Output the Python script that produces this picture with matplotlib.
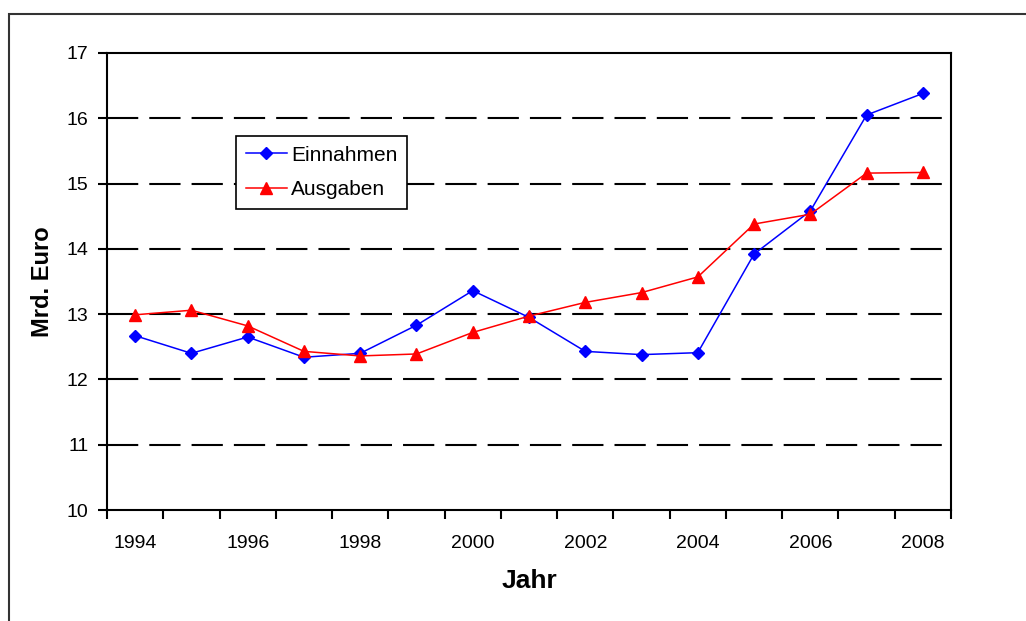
import matplotlib.pyplot as plt
from matplotlib.patches import Rectangle

plt.rcParams['font.family'] = ['Liberation Sans', 'DejaVu Sans']

years = list(range(1994, 2009))
einnahmen = [12.67, 12.40, 12.65, 12.34, 12.40, 12.83, 13.36, 12.95,
             12.43, 12.38, 12.41, 13.92, 14.58, 16.05, 16.38]
ausgaben = [12.99, 13.06, 12.82, 12.43, 12.36, 12.39, 12.72, 12.97,
            13.18, 13.33, 13.57, 14.38, 14.53, 15.16, 15.17]
year_labels = [str(y) if y % 2 == 0 else '' for y in years]

fig = plt.figure(figsize=(10.26, 6.21), dpi=100)
ax = fig.add_axes([0.1043, 0.1787, 0.8226, 0.736])

# outer chart frame (runs off the right and bottom edges)
fig.patches.append(Rectangle((9 / 1026, -0.1), 1.2, (621 - 14) / 621 + 0.1,
                             transform=fig.transFigure, fill=False,
                             edgecolor='#333333', linewidth=1.5))

x = list(range(len(years)))
ax.plot(x, einnahmen, color='#0000ff', linewidth=1.1, marker='D',
        markersize=6.5, label='Einnahmen')
ax.plot(x, ausgaben, color='#ff0000', linewidth=1.1, marker='^',
        markersize=8.5, label='Ausgaben')

ax.set_xlim(-0.5, len(years) - 0.5)
ax.set_ylim(10, 17)
ax.set_yticks(range(10, 18))
ax.set_xticks(x)
ax.set_xticklabels(year_labels, fontsize=14)
ax.set_xticks([i - 0.5 for i in range(len(years) + 1)], minor=True)
ax.tick_params(axis='x', which='major', length=0, pad=18)
ax.tick_params(axis='x', which='minor', length=6.5, width=1.5, direction='out')
ax.tick_params(axis='y', length=6.5, width=1.5, direction='out', labelsize=14, pad=7)

for v in range(11, 17):
    ax.axhline(v, color='black', linewidth=1.5, dashes=(15, 5.3), zorder=0)

for s in ax.spines.values():
    s.set_linewidth(1.5)

ax.set_ylabel('Mrd. Euro', fontsize=17, fontweight='bold', labelpad=9)
ax.set_xlabel('Jahr', fontsize=19, fontweight='bold', labelpad=12)

leg = ax.legend(loc='upper left', bbox_to_anchor=(0.153, 0.818), borderaxespad=0,
                fontsize=15, fancybox=False, edgecolor='black', framealpha=1,
                handlelength=2.0, handletextpad=0.2, borderpad=0.45,
                labelspacing=0.75)
leg.get_frame().set_linewidth(1.2)

fig.savefig('out.png', dpi=100)
